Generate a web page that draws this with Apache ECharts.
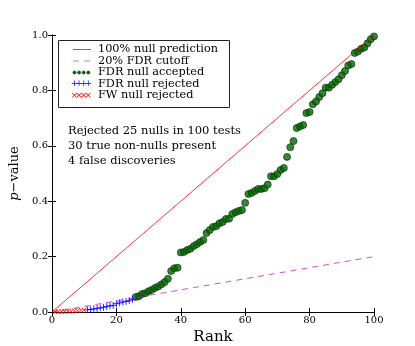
<!DOCTYPE html>
<html>
<head>
<meta charset="utf-8">
<script src="https://cdn.jsdelivr.net/npm/echarts@6/dist/echarts.min.js"></script>
<style>
  html, body { margin: 0; padding: 0; background: #fff; }
  #main { width: 415px; height: 346px; }
</style>
</head>
<body>
<div id="main"></div>
<script>
// sorted p-values, ranks start at 1
var fwRejected = [0.001, 0.001, 0.002, 0.002, 0.003, 0.003, 0.004, 0.005, 0.006, 0.007];
var fdrRejected = [0.008, 0.009, 0.011, 0.013, 0.015, 0.017, 0.02, 0.022, 0.024, 0.03,
    0.033, 0.036, 0.038, 0.041, 0.046];
var fdrAccepted = [0.054, 0.057, 0.065, 0.068, 0.075, 0.08, 0.087, 0.092, 0.10, 0.108,
    0.12, 0.148, 0.158, 0.16, 0.215, 0.217, 0.224, 0.228, 0.238, 0.245,
    0.253, 0.26, 0.285, 0.296, 0.307, 0.31, 0.32, 0.325, 0.336, 0.337,
    0.354, 0.36, 0.365, 0.368, 0.394, 0.426, 0.43, 0.437, 0.444, 0.444,
    0.447, 0.46, 0.49, 0.49, 0.498, 0.513, 0.52, 0.56, 0.595, 0.617,
    0.664, 0.67, 0.675, 0.718, 0.722, 0.75, 0.76, 0.776, 0.79, 0.81,
    0.81, 0.82, 0.83, 0.84, 0.855, 0.87, 0.89, 0.895, 0.935, 0.94,
    0.95, 0.955, 0.97, 0.985, 0.995];
var nullLine = [[0, 0], [100, 1]];
var fdrCutoff = [[0, 0], [100, 0.2]];
var legendNames = ['100% null prediction', '20% FDR cutoff', 'FDR null accepted', 'FDR null rejected', 'FW null rejected'];
var notes = ['Rejected 25 nulls in 100 tests', '30 true non-nulls present', '4 false discoveries'];

var font = 'DejaVu Serif';

function withRank(vals, start) {
    var out = [];
    for (var i = 0; i < vals.length; i++) out.push([start + i, vals[i]]);
    return out;
}

var myChart = echarts.init(document.getElementById('main'));

// legend box drawn by hand (matplotlib style, 4 markers per row)
var gfx = [];
var lx = 58, ly = 40, rowY = [49.5, 61, 72.5, 84, 95.5];
gfx.push({type: 'rect', shape: {x: lx + 0.5, y: ly + 0.5, width: 171, height: 67},
    style: {fill: '#fff', stroke: '#222', lineWidth: 1}, z: 10});
gfx.push({type: 'line', shape: {x1: 73, y1: rowY[0], x2: 91, y2: rowY[0]},
    style: {stroke: '#ff3030', lineWidth: 1}, z: 11});
gfx.push({type: 'line', shape: {x1: 73, y1: rowY[1], x2: 91, y2: rowY[1]},
    style: {stroke: '#bf00bf', lineWidth: 1, lineDash: [6, 5], opacity: 0.6}, z: 11});
for (var k = 0; k < 4; k++) {
    var cx = 74.5 + k * 4.6;
    gfx.push({type: 'circle', shape: {cx: cx, cy: rowY[2], r: 1.6},
        style: {fill: '#006400', stroke: '#003000', lineWidth: 0.5}, z: 11});
    gfx.push({type: 'text', x: cx, y: rowY[3],
        style: {text: '+', font: '9px DejaVu Sans', fill: '#0000ff', align: 'center', verticalAlign: 'middle'}, z: 11});
    gfx.push({type: 'text', x: cx, y: rowY[4],
        style: {text: '×', font: '9px DejaVu Sans', fill: '#ff0000', align: 'center', verticalAlign: 'middle'}, z: 11});
}
for (var j = 0; j < legendNames.length; j++) {
    gfx.push({type: 'text', x: 98, y: rowY[j],
        style: {text: legendNames[j], font: '11.3px ' + font, fill: '#000', verticalAlign: 'middle'}, z: 11});
}
for (var n = 0; n < notes.length; n++) {
    gfx.push({type: 'text', x: 68, y: 131 + n * 15,
        style: {text: notes[n], font: '11.5px ' + font, fill: '#000', verticalAlign: 'middle'}, z: 11});
}

var tickLabel = {fontFamily: font, fontSize: 10, color: '#000'};

var option = {
    backgroundColor: '#fff',
    animation: false,
    grid: {left: 52, right: 41, top: 35, bottom: 34, outerBoundsMode: 'none', containLabel: false},
    xAxis: [{
        type: 'value', min: 0, max: 100, interval: 20,
        name: 'Rank', nameLocation: 'middle', nameGap: 12,
        nameTextStyle: {fontFamily: font, fontSize: 15, color: '#000'},
        axisLine: {show: true, lineStyle: {color: '#000', width: 1}},
        axisTick: {show: true, inside: true, length: 4, lineStyle: {color: '#000'}},
        axisLabel: Object.assign({margin: 3}, tickLabel),
        splitLine: {show: false}
    }, {
        type: 'value', min: 0, max: 100, interval: 20, position: 'top',
        axisLine: {show: true, lineStyle: {color: '#000', width: 1}},
        axisTick: {show: true, inside: true, length: 4, lineStyle: {color: '#000'}},
        axisLabel: {show: false}, splitLine: {show: false}
    }],
    yAxis: [{
        type: 'value', min: 0, max: 1, interval: 0.2,
        name: '{i|p}−value', nameLocation: 'middle', nameGap: 21, nameRotate: 90,
        nameTextStyle: {fontFamily: font, fontSize: 13, color: '#000',
            rich: {i: {fontFamily: font, fontStyle: 'italic', fontSize: 13, color: '#000'}}},
        axisLine: {show: true, lineStyle: {color: '#000', width: 1}},
        axisTick: {show: true, inside: true, length: 4, lineStyle: {color: '#000'}},
        axisLabel: Object.assign({margin: 4, formatter: function (v) { return v.toFixed(1); }}, tickLabel),
        splitLine: {show: false}
    }, {
        type: 'value', min: 0, max: 1, interval: 0.2, position: 'right',
        axisLine: {show: true, lineStyle: {color: '#000', width: 1}},
        axisTick: {show: true, inside: true, length: 4, lineStyle: {color: '#000'}},
        axisLabel: {show: false}, splitLine: {show: false}
    }],
    series: [{
        name: legendNames[0], type: 'line', data: nullLine, symbol: 'none',
        lineStyle: {color: '#ff0000', width: 1, opacity: 0.8}
    }, {
        name: legendNames[1], type: 'line', data: fdrCutoff, symbol: 'none',
        lineStyle: {color: '#bf00bf', width: 1, type: [6, 5], opacity: 0.7}
    }, {
        name: legendNames[2], type: 'scatter', data: withRank(fdrAccepted, 26),
        symbol: 'circle', symbolSize: 7,
        itemStyle: {color: '#006c00', borderColor: '#0a250a', borderWidth: 0.8}
    }, {
        name: legendNames[3], type: 'scatter', data: withRank(fdrRejected, 11),
        symbol: 'path://M0,5H10M5,0V10', symbolSize: 7,
        itemStyle: {color: '#0000ff', borderColor: '#0000ff', borderWidth: 1}
    }, {
        name: legendNames[4], type: 'scatter', data: withRank(fwRejected, 1),
        symbol: 'path://M0,0L10,10M0,10L10,0', symbolSize: 5,
        itemStyle: {color: '#ff0000', borderColor: '#ff0000', borderWidth: 1}
    }],
    graphic: gfx
};
myChart.setOption(option);
</script>
</body>
</html>
